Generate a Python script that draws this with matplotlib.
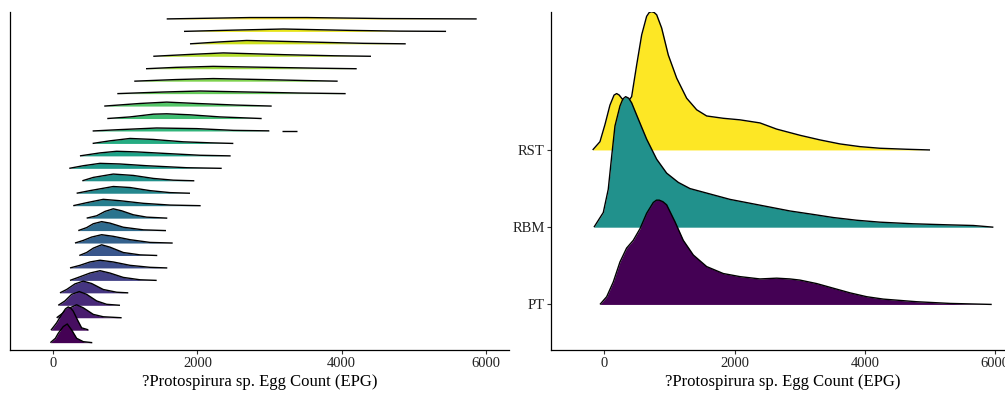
import matplotlib
matplotlib.use("Agg")
import matplotlib.pyplot as plt
import numpy as np

plt.rcParams['font.family'] = ['Liberation Serif', 'DejaVu Serif']

# left panel: one ridge per row (bottom row first), x in EPG, heights in row units
left_x = [
	[-40, 30, 69, 139, 194, 255, 324, 416, 541],
	[-32, 47, 116, 170, 208, 245, 277, 333, 393, 486],
	[47, 139, 232, 324, 416, 555, 693, 948],
	[69, 162, 255, 361, 463, 602, 740, 925],
	[93, 186, 301, 416, 532, 693, 879, 1040],
	[232, 347, 509, 648, 786, 971, 1203, 1434],
	[232, 370, 509, 648, 832, 1064, 1341, 1581],
	[361, 463, 555, 671, 786, 971, 1203, 1442],
	[301, 416, 532, 671, 832, 1064, 1341, 1656],
	[347, 463, 555, 671, 786, 971, 1250, 1563],
	[463, 602, 717, 832, 948, 1110, 1295, 1581],
	[277, 463, 693, 925, 1248, 1619, 2044],
	[324, 509, 832, 1064, 1341, 1619, 1896],
	[403, 555, 832, 1110, 1387, 1664, 1956],
	[222, 416, 648, 925, 1295, 1850, 2336],
	[370, 648, 879, 1157, 1573, 2035, 2460],
	[546, 786, 1064, 1387, 1803, 2173, 2497],
	[546, 925, 1434, 1989, 2497, 2996],
	[749, 1064, 1387, 1573, 1896, 2312, 2890],
	[707, 1203, 1573, 1989, 2544, 3029],
	[888, 1526, 2035, 2700, 3400, 4055],
	[1123, 1700, 2219, 2900, 3500, 3944],
	[1286, 1700, 2219, 3000, 3700, 4208],
	[1387, 1900, 2358, 3190, 3900, 4406],
	[1896, 2300, 2682, 3653, 4300, 4888],
	[1813, 2500, 3190, 4115, 4800, 5447],
	[1573, 2728, 3514, 4577, 5872],
]
left_h = [
	[0, 0.35, 0.75, 1.29, 1.50, 1.02, 0.35, 0.08, 0.0],
	[0, 0.59, 1.26, 1.72, 1.87, 1.75, 1.53, 0.86, 0.19, 0.03],
	[0, 0.40, 0.80, 1.04, 0.80, 0.27, 0.08, 0.0],
	[0, 0.35, 0.88, 1.10, 0.88, 0.35, 0.08, 0.0],
	[0, 0.27, 0.72, 0.94, 0.75, 0.27, 0.05, 0.0],
	[0, 0.24, 0.59, 0.78, 0.59, 0.24, 0.05, 0.0],
	[0, 0.21, 0.48, 0.62, 0.48, 0.21, 0.05, 0.0],
	[0, 0.24, 0.59, 0.86, 0.67, 0.24, 0.05, 0.0],
	[0, 0.21, 0.48, 0.67, 0.54, 0.27, 0.05, 0.0],
	[0, 0.24, 0.55, 0.72, 0.60, 0.27, 0.06, 0.0],
	[0, 0.19, 0.54, 0.75, 0.59, 0.27, 0.08, 0.0],
	[0, 0.24, 0.51, 0.40, 0.19, 0.05, 0.0],
	[0, 0.21, 0.54, 0.46, 0.21, 0.05, 0.0],
	[0, 0.27, 0.54, 0.43, 0.19, 0.05, 0.0],
	[0, 0.21, 0.40, 0.35, 0.21, 0.05, 0.0],
	[0, 0.24, 0.37, 0.32, 0.19, 0.05, 0.0],
	[0, 0.21, 0.40, 0.32, 0.13, 0.05, 0.0],
	[0, 0.11, 0.24, 0.19, 0.05, 0.01],
	[0, 0.13, 0.35, 0.38, 0.30, 0.13, 0.0],
	[0, 0.21, 0.32, 0.21, 0.08, 0.0],
	[0, 0.13, 0.21, 0.13, 0.05, 0.0],
	[0, 0.13, 0.21, 0.13, 0.05, 0.0],
	[0, 0.11, 0.19, 0.11, 0.04, 0.0],
	[0, 0.15, 0.27, 0.13, 0.04, 0.0],
	[0, 0.15, 0.27, 0.13, 0.04, 0.0],
	[0, 0.10, 0.19, 0.08, 0.02, 0.0],
	[0, 0.11, 0.11, 0.03, 0.0],
]
# little detached bit of tail on row 18
extra_row = 18
extra_x = [3168, 3376]
extra_h = [0.01, 0.01]

# right panel: sites
sites = ['PT', 'RBM', 'RST']
pt_x = [-66, 37, 138, 241, 343, 445, 548, 650, 752, 800, 844, 900, 957, 1085, 1212, 1366, 1571, 1826,
	2082, 2389, 2645, 2849, 3003, 3259, 3514, 3770, 4026, 4281, 4793, 5305, 5945]
pt_h = [0.0, 0.10, 0.29, 0.55, 0.73, 0.83, 0.98, 1.18, 1.32, 1.35, 1.35, 1.33, 1.29, 1.07, 0.83, 0.64, 0.49, 0.40,
	0.36, 0.33, 0.34, 0.33, 0.315, 0.27, 0.21, 0.15, 0.10, 0.069, 0.035, 0.013, 0.0]
rbm_x = [-158, -15, 61, 114, 164, 241, 285, 328, 375, 420, 522, 650, 804, 957, 1136, 1315, 1622, 1929,
	2236, 2543, 2849, 3207, 3514, 3872, 4231, 4742, 5254, 5663, 5970]
rbm_h = [0, 0.19, 0.49, 0.92, 1.31, 1.57, 1.66, 1.69, 1.67, 1.61, 1.40, 1.14, 0.88, 0.70, 0.58, 0.50, 0.43, 0.36,
	0.31, 0.26, 0.21, 0.165, 0.125, 0.09, 0.065, 0.044, 0.031, 0.022, 0.0]
rst_x = [-178, -66, 11, 87, 150, 190, 230, 266, 343, 420, 497, 574, 650, 690, 727, 765, 804, 880, 982, 1111, 1264,
	1418, 1571, 1826, 2082, 2389, 2645, 3003, 3310, 3617, 3924, 4231, 4640, 4998]
rst_h = [0, 0.107, 0.33, 0.58, 0.71, 0.73, 0.71, 0.67, 0.60, 0.69, 1.10, 1.49, 1.73, 1.78, 1.79, 1.78, 1.75, 1.58, 1.23, 0.93, 0.67,
	0.52, 0.44, 0.41, 0.39, 0.35, 0.27, 0.19, 0.13, 0.078, 0.043, 0.022, 0.009, 0.0]

x_ticks = [0, 2000, 4000, 6000]
x_label = "?Protospirura sp. Egg Count (EPG)"


def draw_ridge(ax, xs, hs, base, color, z):
	xs = np.array(xs, dtype=float)
	top = base + np.array(hs, dtype=float)
	ax.fill_between(xs, base, top, color=color, lw=0, zorder=z)
	ax.plot(xs, top, color='black', lw=1.0, zorder=z + 0.5, solid_capstyle='butt', solid_joinstyle='round')


def style_axes(ax):
	for side in ['top', 'right']:
		ax.spines[side].set_visible(False)
	for side in ['left', 'bottom']:
		ax.spines[side].set_linewidth(0.9)
		ax.spines[side].set_color('black')
	ax.tick_params(axis='x', length=2.75, width=0.8, color='#333333', pad=2.5, labelsize=10.5, labelcolor='#222222')
	ax.set_xticks(x_ticks)
	ax.set_xlabel(x_label, fontsize=12, labelpad=3)


fig = plt.figure(figsize=(10.05, 3.93), dpi=100)

# left panel
ax1 = fig.add_axes([10 / 1005, 1 - 350 / 393, 499 / 1005, 338.3 / 393])
n = len(left_x)
colors = plt.cm.viridis(np.linspace(0, 1, n))
for i in range(n):
	draw_ridge(ax1, left_x[i], left_h[i], i + 1, colors[i], 100 - 2 * i)
	if i + 1 == extra_row:
		draw_ridge(ax1, extra_x, extra_h, i + 1, colors[i], 100 - 2 * i)
ax1.set_xlim(-600, 6320)
ax1.set_ylim(0.41, 27.58)
ax1.set_yticks([])
style_axes(ax1)

# right panel
ax2 = fig.add_axes([550.7 / 1005, 1 - 350 / 393, 464.3 / 1005, 338.3 / 393])
site_x = [pt_x, rbm_x, rst_x]
site_h = [pt_h, rbm_h, rst_h]
site_colors = plt.cm.viridis(np.linspace(0, 1, len(sites)))
for i in range(len(sites)):
	draw_ridge(ax2, site_x[i], site_h[i], i + 1, site_colors[i], 10 - 2 * i)
ax2.set_xlim(-822, 6302)
ax2.set_ylim(0.41, 4.79)
ax2.set_yticks(range(1, len(sites) + 1))
ax2.set_yticklabels(sites)
ax2.tick_params(axis='y', length=2.75, width=0.8, color='#333333', pad=1.5, labelsize=10.5, labelcolor='#222222')
style_axes(ax2)

plt.savefig('out.png', dpi=100)
